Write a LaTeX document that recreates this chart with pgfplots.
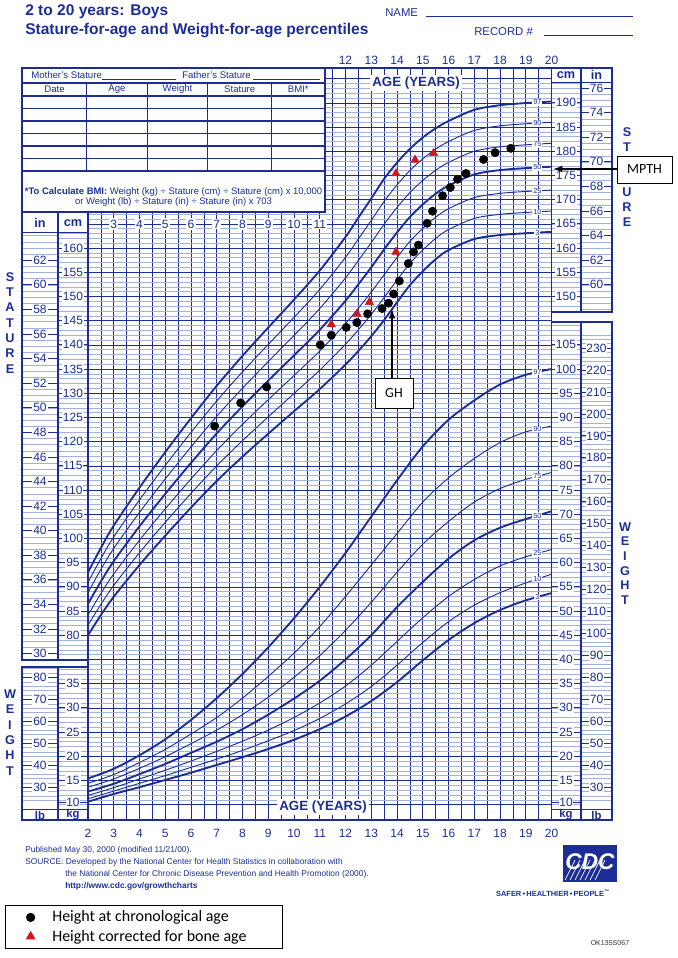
\documentclass[border=0pt]{standalone}
\usepackage{fontspec}
\setmainfont{Liberation Sans}
\newfontfamily\carlito{Carlito}
\usepackage{pgfplots}
\usepackage{pgfplotstable}
\pgfplotsset{compat=1.18}
\usetikzlibrary{arrows.meta}
\definecolor{cdc}{RGB}{28,46,150}
\definecolor{cdcl}{RGB}{165,176,220}
\definecolor{tri}{RGB}{205,25,30}
\newcommand{\fs}[1]{\fontsize{#1}{#1}\selectfont}
\newcommand{\tk}{\fs{9}}

% Stature-for-age percentiles (cm)
\pgfplotstableread{
age p3 p10 p25 p50 p75 p90 p97
2 79.99 82.07 84.17 86.5 88.83 90.93 93.01
2.5 84.16 86.37 88.61 91.1 93.59 95.83 98.04
3 87.95 90.29 92.66 95.3 97.94 100.31 102.65
4 94.50 97.05 99.63 102.5 105.37 107.95 110.50
5 100.57 103.32 106.11 109.2 112.29 115.08 117.83
6 106.36 109.30 112.29 115.6 118.91 121.90 124.84
7 111.86 114.99 118.17 121.7 125.23 128.41 131.54
8 116.88 120.20 123.57 127.3 131.03 134.40 137.72
9 121.63 125.12 128.66 132.6 136.54 140.08 143.57
10 126.27 129.94 133.66 137.8 141.94 145.66 149.33
11 130.85 134.76 138.71 143.1 147.49 151.44 155.35
12 135.92 140.12 144.37 149.1 153.83 158.08 162.28
12.5 138.73 143.12 147.56 152.5 157.44 161.88 166.27
13 141.77 146.30 150.90 156.0 161.10 165.70 170.23
13.5 145.13 149.77 154.48 159.7 164.92 169.63 174.27
14 148.77 153.37 158.03 163.2 168.37 173.03 177.63
14.5 152.32 156.80 161.35 166.4 171.45 176.00 180.49
15 155.17 159.58 164.04 169.0 173.96 178.42 182.83
15.5 157.68 161.98 166.35 171.2 176.05 180.42 184.72
16 159.57 163.81 168.12 172.9 177.68 181.99 186.23
17 161.85 166.11 170.41 175.2 179.99 184.29 188.55
18 162.68 166.96 171.29 176.1 180.91 185.24 189.51
19 163.05 167.34 171.68 176.5 181.32 185.66 189.95
20 163.33 167.62 171.97 176.8 181.63 185.98 190.27
}\stat

% Weight-for-age percentiles (kg)
\pgfplotstableread{
age p3 p10 p25 p50 p75 p90 p97
2 10.6 11.2 11.9 12.7 13.6 14.4 15.4
3 12.2 12.8 13.5 14.3 15.3 16.2 17.4
4 13.6 14.4 15.3 16.3 17.5 18.7 20.2
5 15.1 16.0 17.1 18.4 19.9 21.4 23.5
6 16.6 17.7 19.0 20.7 22.6 24.6 27.5
7 18.2 19.4 21.0 23.0 25.4 28.0 32.0
8 19.8 21.2 23.1 25.6 28.6 32.0 37.0
9 21.5 23.2 25.4 28.6 32.2 36.5 42.5
10 23.4 25.3 28.0 31.9 36.3 41.3 48.5
11 25.6 27.8 31.0 35.6 40.8 46.8 55.0
12 28.2 30.8 34.5 40.0 46.0 53.0 62.0
13 31.4 34.4 38.8 45.0 51.8 59.5 69.5
14 35.3 38.8 43.7 50.8 58.0 66.0 77.0
15 39.8 43.5 48.6 56.0 63.8 72.5 84.0
16 44.0 47.8 53.0 60.8 68.5 77.5 89.5
17 47.5 51.2 56.5 64.6 72.5 81.5 93.5
18 50.2 53.8 59.3 67.2 75.3 84.8 96.8
19 52.2 55.8 61.2 69.0 77.2 87.0 98.8
20 53.7 57.6 62.7 70.6 78.6 88.2 100.0
}\wt

% Patient: height at chronological age
\pgfplotstableread{
age cm
6.92 123.2
7.93 128.0
8.94 131.3
11.02 140.0
11.45 142.0
12.03 143.6
12.44 144.6
12.86 146.4
13.42 147.5
13.67 148.6
13.87 150.5
14.09 153.2
14.44 156.8
14.64 159.2
14.83 160.6
15.17 165.1
15.38 167.6
15.77 170.8
16.07 172.5
16.35 174.2
16.68 175.4
17.36 178.3
17.81 179.7
18.42 180.6
}\chron

% Patient: height corrected for bone age
\pgfplotstableread{
age cm
11.45 144.2
12.45 146.4
12.93 148.8
13.96 159.2
13.96 175.4
14.70 178.2
15.42 179.6
}\bone

\begin{document}
\begin{tikzpicture}
\path[use as bounding box] (0,0) rectangle (508.5pt,-718.5pt);
\begin{axis}[
  at={(66pt,-615pt)}, anchor=south west,
  scale only axis, width=347.625pt, height=564pt,
  xmin=2, xmax=20, ymin=41.82, ymax=197.19,
  axis line style={cdc, line width=1pt},
  xtick={2,2.5,...,20}, ytick={45,50,...,195}, minor y tick num=4,
  grid=both,
  major grid style={cdc, line width=0.45pt},
  minor grid style={cdcl, line width=0.3pt},
  xticklabels={}, yticklabels={}, tick style={draw=none},
  clip=false,
  legend style={at={(axis description cs:-0.179,-0.1131)}, anchor=north west,
    draw=black, line width=0.7pt, fill=white, font=\carlito\fs{12}, text=black,
    inner sep=2pt, row sep=0.5pt, cells={anchor=west},
    /tikz/every odd column/.append style={column sep=4pt}},
  legend image code/.code={\path (0,0) (26.4pt,0); \draw[#1] plot coordinates {(16.5pt,0pt)};},
]
% stature curves
\addplot[cdc, line width=1.4pt, smooth, forget plot] table[x=age,y=p97]{\stat};
\addplot[cdc, line width=0.7pt, smooth, forget plot] table[x=age,y=p90]{\stat};
\addplot[cdc, line width=0.7pt, smooth, forget plot] table[x=age,y=p75]{\stat};
\addplot[cdc, line width=1.4pt, smooth, forget plot] table[x=age,y=p50]{\stat};
\addplot[cdc, line width=0.7pt, smooth, forget plot] table[x=age,y=p25]{\stat};
\addplot[cdc, line width=0.7pt, smooth, forget plot] table[x=age,y=p10]{\stat};
\addplot[cdc, line width=1.4pt, smooth, forget plot] table[x=age,y=p3]{\stat};
% weight curves (kg drawn 35 units below the stature scale, as on the chart)
\addplot[cdc, line width=1.4pt, smooth, forget plot] table[x=age,y expr=\thisrow{p97}+35]{\wt};
\addplot[cdc, line width=0.7pt, smooth, forget plot] table[x=age,y expr=\thisrow{p90}+35]{\wt};
\addplot[cdc, line width=0.7pt, smooth, forget plot] table[x=age,y expr=\thisrow{p75}+35]{\wt};
\addplot[cdc, line width=1.4pt, smooth, forget plot] table[x=age,y expr=\thisrow{p50}+35]{\wt};
\addplot[cdc, line width=0.7pt, smooth, forget plot] table[x=age,y expr=\thisrow{p25}+35]{\wt};
\addplot[cdc, line width=0.7pt, smooth, forget plot] table[x=age,y expr=\thisrow{p10}+35]{\wt};
\addplot[cdc, line width=1.4pt, smooth, forget plot] table[x=age,y expr=\thisrow{p3}+35]{\wt};
% percentile labels
\begin{scope}[every node/.style={fill=white, inner sep=0.6pt, text=cdc, font=\fs{5.5}}]
\node at (axis cs:19.45,190.1) {97};
\node at (axis cs:19.45,185.8) {90};
\node at (axis cs:19.45,181.45) {75};
\node at (axis cs:19.45,176.65) {50};
\node at (axis cs:19.45,171.8) {25};
\node at (axis cs:19.45,167.45) {10};
\node at (axis cs:19.45,163.2) {3};
\node at (axis cs:19.45,134.4) {97};
\node at (axis cs:19.45,122.6) {90};
\node at (axis cs:19.45,112.9) {75};
\node at (axis cs:19.45,104.7) {50};
\node at (axis cs:19.45,96.9) {25};
\node at (axis cs:19.45,91.6) {10};
\node at (axis cs:19.45,87.9) {3};
\end{scope}
% patient data
\addplot[only marks, mark=*, mark size=3.1pt, black] table[x=age,y=cm]{\chron};
\addlegendentry{Height at chronological age}
\addplot[only marks, mark=triangle*, mark size=3.6pt, color=tri] table[x=age,y=cm]{\bone};
\addlegendentry{\makebox[168.5pt][l]{Height corrected for bone age}}
\end{axis}

\begin{scope}[x=0.75pt,y=-0.75pt]
% ---------- header ----------
\node[anchor=west, text=cdc, font=\bfseries\fs{11.65}, inner sep=0] at (25,12) {2 to 20 years: Boys};
\node[anchor=west, text=cdc, font=\bfseries\fs{11.65}, inner sep=0] at (25,31) {Stature-for-age and Weight-for-age percentiles};
\node[anchor=west, text=cdc, font=\fs{8.5}, inner sep=0] at (385,13) {NAME};
\draw[cdc, line width=0.8pt] (426,16.5) -- (633,16.5);
\node[anchor=west, text=cdc, font=\fs{8.5}, inner sep=0] at (474,32) {RECORD \#};
\draw[cdc, line width=0.8pt] (544,35.5) -- (633,35.5);
% ---------- age labels ----------
\foreach \a in {12,...,20} \node[text=cdc, font=\tk, inner sep=0] at ({88+(\a-2)*25.75},60) {\a};
\foreach \a in {2,...,20} \node[text=cdc, font=\tk, inner sep=0] at ({88+(\a-2)*25.75},833) {\a};
\foreach \a in {3,...,11} \node[text=cdc, font=\tk, fill=white, inner sep=1pt] at ({88+(\a-2)*25.75},224) {\a};
\node[text=cdc, font=\bfseries\fs{10}, fill=white, inner sep=1.5pt] at (416,83) {AGE (YEARS)};
\node[text=cdc, font=\bfseries\fs{10}, fill=white, inner sep=1.5pt] at (323,807) {AGE (YEARS)};

% ---------- left stature columns ----------
\fill[white] (22,212) rectangle (88,660);
\foreach \c in {76,...,163} \draw[cdcl, line width=0.3pt] (58,{248-(\c-160)*4.84}) -- (88,{248-(\c-160)*4.84});
\foreach \v in {30,30.5,...,64} \draw[cdcl, line width=0.3pt] (22,{248-(2.54*\v-160)*4.84}) -- (58,{248-(2.54*\v-160)*4.84});
\fill[white] (22,212) rectangle (88,232);
\foreach \c in {80,85,...,160}{
  \draw[cdc, line width=0.6pt] (58,{248-(\c-160)*4.84}) -- (88,{248-(\c-160)*4.84});
  \node[fill=white, inner sep=0.7pt, text=cdc, font=\tk] at (73,{248-(\c-160)*4.84}) {\c};}
\foreach \v in {30,32,...,62}{
  \draw[cdc, line width=0.6pt] (22,{248-(2.54*\v-160)*4.84}) -- (58,{248-(2.54*\v-160)*4.84});
  \node[fill=white, inner sep=0.7pt, text=cdc, font=\tk] at (40,{248-(2.54*\v-160)*4.84}) {\v};}
\node[text=cdc, font=\bfseries\fs{9.5}] at (40,223) {in};
\node[text=cdc, font=\bfseries\fs{9.5}] at (73,223) {cm};
\draw[cdc, line width=0.9pt] (22,212) rectangle (88,660);
\draw[cdc, line width=0.9pt] (58,212) -- (58,660);
\draw[cdc, line width=0.6pt] (22,232) -- (88,232);

% ---------- left weight columns ----------
\fill[white] (22,667) rectangle (88,820);
\foreach \k in {10,...,38} \draw[cdcl, line width=0.3pt] (58,{853-4.84*\k}) -- (88,{853-4.84*\k});
\foreach \l in {24,26,...,84} \draw[cdcl, line width=0.3pt] (22,{853-2.1954*\l}) -- (58,{853-2.1954*\l});
\foreach \k in {15,20,...,35}{
  \draw[cdc, line width=0.6pt] (58,{853-4.84*\k}) -- (88,{853-4.84*\k});
  \node[fill=white, inner sep=0.7pt, text=cdc, font=\tk] at (73,{853-4.84*\k}) {\k};}
\foreach \l in {30,40,...,80}{
  \draw[cdc, line width=0.6pt] (22,{853-2.1954*\l}) -- (58,{853-2.1954*\l});
  \node[fill=white, inner sep=0.7pt, text=cdc, font=\tk] at (40,{853-2.1954*\l}) {\l};}
\fill[white] (22,809) rectangle (88,820);
\draw[cdc, line width=0.6pt] (58,802) -- (88,802);
\node[fill=white, inner sep=0.3pt, text=cdc, font=\tk] at (73,802) {10};
\draw[cdc, line width=0.9pt] (22,667) rectangle (88,820);
\draw[cdc, line width=0.9pt] (58,667) -- (58,820);
\draw[cdc, line width=0.6pt] (22,809) -- (88,809);
\node[text=cdc, font=\bfseries\fs{8.5}, inner sep=0] at (40,815) {lb};
\node[text=cdc, font=\bfseries\fs{8.5}, inner sep=0] at (73,815) {kg};

% ---------- right stature columns ----------
\fill[white] (551.5,68) rectangle (612,312);
\foreach \c in {147,...,194} \draw[cdcl, line width=0.3pt] (551.5,{248-(\c-160)*4.84}) -- (581,{248-(\c-160)*4.84});
\foreach \v in {58,58.5,...,76.5} \draw[cdcl, line width=0.3pt] (581,{248-(2.54*\v-160)*4.84}) -- (612,{248-(2.54*\v-160)*4.84});
\fill[white] (551.5,68) rectangle (612,82);
\foreach \c in {150,155,...,190}{
  \draw[cdc, line width=0.6pt] (551.5,{248-(\c-160)*4.84}) -- (581,{248-(\c-160)*4.84});
  \node[fill=white, inner sep=0.7pt, text=cdc, font=\tk] at (566,{248-(\c-160)*4.84}) {\c};}
\foreach \v in {60,62,...,76}{
  \draw[cdc, line width=0.6pt] (581,{248-(2.54*\v-160)*4.84}) -- (612,{248-(2.54*\v-160)*4.84});
  \node[fill=white, inner sep=0.7pt, text=cdc, font=\tk] at (596.5,{248-(2.54*\v-160)*4.84}) {\v};}
\node[text=cdc, font=\bfseries\fs{9.5}] at (566,75) {cm};
\node[text=cdc, font=\bfseries\fs{9.5}] at (596.5,75) {in};
\draw[cdc, line width=0.9pt] (551.5,68) rectangle (612,312);
\draw[cdc, line width=0.9pt] (581,68) -- (581,312);
\draw[cdc, line width=0.6pt] (551.5,82) -- (612,82);

% ---------- right weight columns ----------
\fill[white] (551.5,322) rectangle (612,820);
\foreach \k in {10,...,109} \draw[cdcl, line width=0.3pt] (551.5,{853-4.84*\k}) -- (581,{853-4.84*\k});
\foreach \l in {24,26,...,236} \draw[cdcl, line width=0.3pt] (581,{853-2.1954*\l}) -- (612,{853-2.1954*\l});
\foreach \k in {15,20,...,105}{
  \draw[cdc, line width=0.6pt] (551.5,{853-4.84*\k}) -- (581,{853-4.84*\k});
  \node[fill=white, inner sep=0.7pt, text=cdc, font=\tk] at (566,{853-4.84*\k}) {\k};}
\foreach \l in {30,40,...,230}{
  \draw[cdc, line width=0.6pt] (581,{853-2.1954*\l}) -- (612,{853-2.1954*\l});
  \node[fill=white, inner sep=0.7pt, text=cdc, font=\tk] at (596.5,{853-2.1954*\l}) {\l};}
\fill[white] (551.5,809) rectangle (612,820);
\draw[cdc, line width=0.6pt] (551.5,802) -- (581,802);
\node[fill=white, inner sep=0.3pt, text=cdc, font=\tk] at (566,802) {10};
\draw[cdc, line width=0.9pt] (551.5,322) rectangle (612,820);
\draw[cdc, line width=0.9pt] (581,322) -- (581,820);
\draw[cdc, line width=0.6pt] (551.5,809) -- (612,809);
\node[text=cdc, font=\bfseries\fs{8.5}, inner sep=0] at (566,815) {kg};
\node[text=cdc, font=\bfseries\fs{8.5}, inner sep=0] at (596.5,815) {lb};

% ---------- vertical words ----------
\foreach \ch [count=\i from 0] in {S,T,A,T,U,R,E}
  \node[text=cdc, font=\bfseries\fs{9.5}] at (10,{277+\i*15.3}) {\ch};
\node[text=cdc, font=\bfseries\fs{9.5}] at (627,132) {S};
\node[text=cdc, font=\bfseries\fs{9.5}] at (627,147) {T};
\node[text=cdc, font=\bfseries\fs{9.5}] at (627,192) {U};
\node[text=cdc, font=\bfseries\fs{9.5}] at (627,207) {R};
\node[text=cdc, font=\bfseries\fs{9.5}] at (627,222) {E};
\foreach \ch [count=\i from 0] in {W,E,I,G,H,T}
  \node[text=cdc, font=\bfseries\fs{9.5}] at (625,{527+\i*14.6}) {\ch};
\foreach \ch [count=\i from 0] in {W,E,I,G,H,T}
  \node[text=cdc, font=\bfseries\fs{9.5}] at (10,{694+\i*15.4}) {\ch};

% ---------- record table ----------
\fill[white] (22,66) rectangle (325,212);
\draw[cdc, line width=0.9pt] (22,68) rectangle (325,212);
\foreach \yy in {83,96,108.5,121,133.5,146,158.5,171} \draw[cdc, line width=0.8pt] (22,\yy) -- (325,\yy);
\foreach \xx in {86.7,147.3,207.7,271.7} \draw[cdc, line width=0.8pt] (\xx,83) -- (\xx,171);
\node[anchor=west, text=cdc, font=\fs{7.2}, inner sep=0] at (31,75.5) {Mother's Stature};
\draw[cdc, line width=0.6pt] (102,79.5) -- (176,79.5);
\node[anchor=west, text=cdc, font=\fs{7.2}, inner sep=0] at (182,75.5) {Father's Stature};
\draw[cdc, line width=0.6pt] (253,79.5) -- (320,79.5);
\node[text=cdc, font=\fs{7.2}] at (54.5,89.5) {Date};
\node[text=cdc, font=\fs{7.2}] at (117,89.5) {Age};
\node[text=cdc, font=\fs{7.2}] at (177.5,89.5) {Weight};
\node[text=cdc, font=\fs{7.2}] at (239.7,89.5) {Stature};
\node[text=cdc, font=\fs{7.2}] at (298.3,89.5) {BMI*};
\node[text=cdc, font=\fs{7.1}, inner sep=0] at (173.5,192.5) {\textbf{*To Calculate BMI:} Weight (kg) ÷ Stature (cm) ÷ Stature (cm) x 10,000};
\node[text=cdc, font=\fs{7.1}, inner sep=0] at (173.5,202.5) {or Weight (lb) ÷ Stature (in) ÷ Stature (in) x 703};

% ---------- annotations ----------
\draw[black, line width=0.9pt, -{Latex[length=7pt,width=5pt]}] (617,169) -- (553,169);
\draw[black, fill=white, line width=0.7pt] (617,156) rectangle (672,183);
\node[font=\carlito\fs{10.5}] at (644.5,169.5) {MPTH};
\draw[black, line width=0.9pt, -{Latex[length=7pt,width=5pt]}] (392,378) -- (392,309);
\draw[black, fill=white, line width=0.7pt] (375,378) rectangle (413,408);
\node[font=\carlito\fs{10.5}] at (394,393) {GH};

% ---------- footer ----------
\node[anchor=west, text=cdc, font=\fs{6.3}, inner sep=0] at (25,850) {Published May 30, 2000 (modified 11/21/00).};
\node[anchor=west, text=cdc, font=\fs{6.3}, inner sep=0] at (25,862) {SOURCE: Developed by the National Center for Health Statistics in collaboration with};
\node[anchor=west, text=cdc, font=\fs{6.3}, inner sep=0] at (65,874) {the National Center for Chronic Disease Prevention and Health Promotion (2000).};
\node[anchor=west, text=cdc, font=\bfseries\fs{6.3}, inner sep=0] at (65,886) {http://www.cdc.gov/growthcharts};
\fill[cdc] (563,845) rectangle (617,882);
\foreach \d in {0,5,...,30} \draw[white, line width=0.5pt] ({565+\d},880) -- ({575+\d},860);
\node[text=white, font=\bfseries\itshape\fs{17}] at (590,862) {CDC};
\node[text=cdc, font=\bfseries\fs{5.6}] at (553,893) {SAFER\,•\,HEALTHIER\,•\,PEOPLE\textsuperscript{™}};
\node[font=\fs{5.3}, text=black!80] at (610,943) {OK135S067};
\end{scope}
\end{tikzpicture}
\end{document}
